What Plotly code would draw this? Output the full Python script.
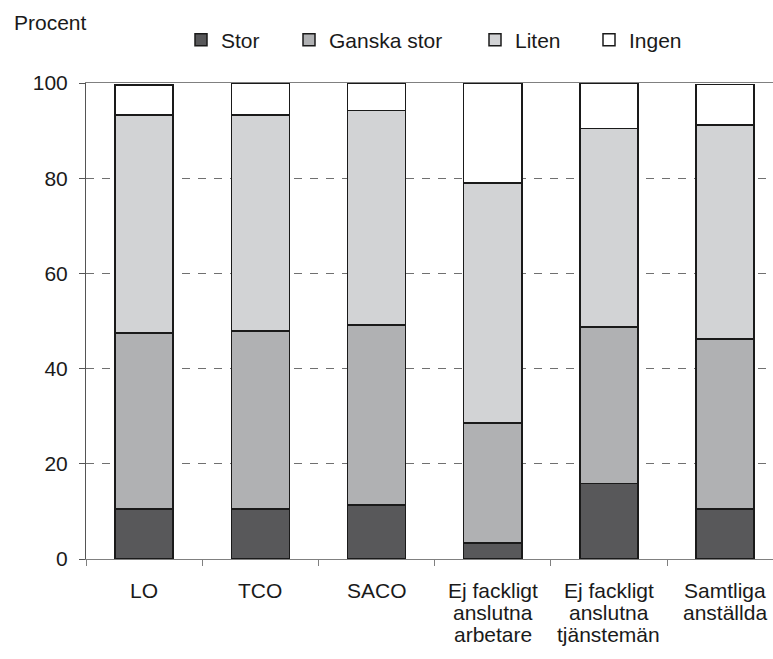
import plotly.graph_objects as go

categories = ["LO", "TCO", "SACO", "Ej fackligt anslutna arbetare",
              "Ej fackligt anslutna tjänstemän", "Samtliga anställda"]
label_lines = [["LO"], ["TCO"], ["SACO"],
               ["Ej fackligt", "anslutna", "arbetare"],
               ["Ej fackligt", "anslutna", "tjänstemän"],
               ["Samtliga", "anställda"]]

stor = [10.5, 10.5, 11.3, 3.4, 15.9, 10.5]
ganska_stor = [37.0, 37.4, 37.9, 25.2, 32.8, 35.7]
liten = [45.8, 45.4, 45.0, 50.4, 41.7, 45.0]
ingen = [6.3, 6.7, 5.8, 21.0, 9.6, 8.5]

series_names = ["Stor", "Ganska stor", "Liten", "Ingen"]
series_values = [stor, ganska_stor, liten, ingen]
colors = ["#58585a", "#b0b1b3", "#d2d3d5", "#ffffff"]
legend_ids = ["legend", "legend2", "legend3", "legend4"]
legend_x_px = [181, 289, 475, 589]

FONT = "Liberation Sans, Arial, sans-serif"
FS = 21
W, H = 773, 659

fig = go.Figure()
for name, vals, col, lid in zip(series_names, series_values, colors, legend_ids):
    fig.add_trace(go.Bar(
        x=categories, y=vals, name=name, legend=lid,
        marker=dict(color=col, line=dict(color="#1a1a1a", width=1.5)),
    ))

layout_legends = {}
for lid, px in zip(legend_ids, legend_x_px):
    layout_legends[lid] = dict(
        x=px / W, xref="container", xanchor="left",
        y=1 - 40 / H, yref="container", yanchor="middle",
        orientation="h", font=dict(family=FONT, size=FS, color="#1a1a1a"),
        bgcolor="rgba(0,0,0,0)", itemwidth=30,
    )

ML, MT = 86, 83
PW = W - ML
fig.update_layout(
    width=W, height=H, barmode="stack", bargap=0.5,
    plot_bgcolor="white", paper_bgcolor="white",
    margin=dict(l=ML, r=0, t=MT, b=H - MT - 476, autoexpand=False),
    font=dict(family=FONT, size=FS, color="#1a1a1a"),
    showlegend=True,
    **layout_legends,
)

fig.update_xaxes(
    type="category", range=[-0.5, -0.5 + PW / 116.2],
    showticklabels=False, tickson="boundaries",
    ticks="outside", ticklen=6, tickcolor="#808080",
    showline=True, linecolor="#808080", linewidth=1, mirror=True,
    showgrid=False, automargin=False,
)
fig.update_yaxes(
    range=[0, 100], tickvals=[0, 20, 40, 60, 80, 100],
    ticks="outside", ticklen=6, tickcolor="#555555",
    showline=True, linecolor="#555555", linewidth=1,
    showgrid=True, gridcolor="#707070", gridwidth=1, griddash="8px,8px",
    zeroline=False, ticklabelstandoff=7, automargin=False,
    tickfont=dict(family=FONT, size=FS, color="#1a1a1a"),
)

fig.add_annotation(text="Procent", xref="paper", x=-74 / PW, xanchor="left",
                   yref="paper", y=1, yanchor="bottom", yshift=47,
                   showarrow=False, font=dict(family=FONT, size=FS, color="#1a1a1a"))
for cat, lines in zip(categories, label_lines):
    for i, line in enumerate(lines):
        fig.add_annotation(text=line, x=cat, xref="x", xanchor="center",
                           y=0, yref="paper", yanchor="top", yshift=-18 - 22 * i,
                           showarrow=False,
                           font=dict(family=FONT, size=FS, color="#1a1a1a"))

fig.write_html(
    "out.html",
    config={"displayModeBar": False},
    post_script="document.body.style.margin='0';document.body.style.overflow='hidden';",
)
